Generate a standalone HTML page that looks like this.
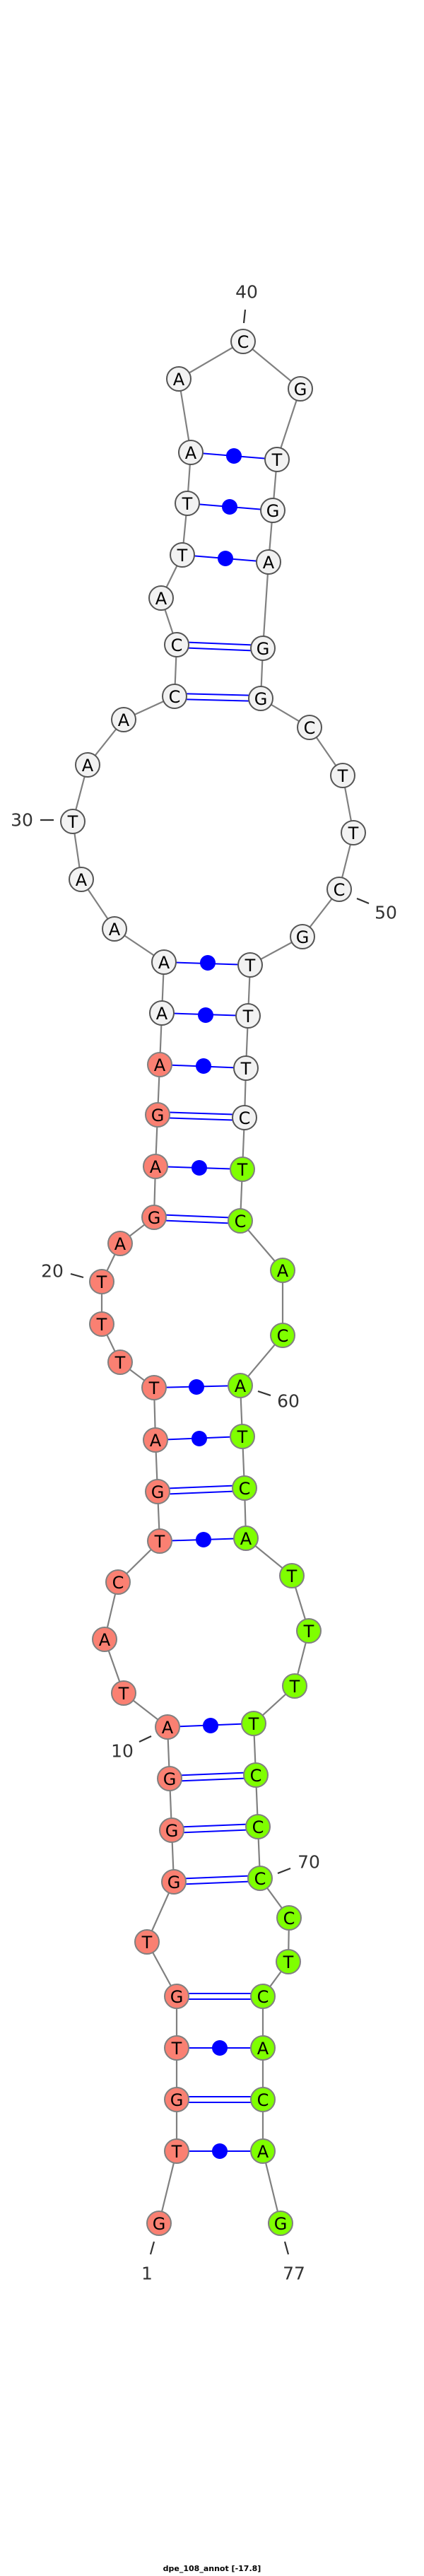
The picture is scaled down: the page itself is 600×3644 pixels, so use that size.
<!DOCTYPE html>
<html><head><meta charset="utf-8"><style>
html,body{margin:0;padding:0;background:#fff;}
svg{display:block;}
.n text{font-family:"DejaVu Sans","Liberation Sans",sans-serif;font-size:24px;text-anchor:middle;dominant-baseline:central;fill:#000;}
.lbl{font-family:"DejaVu Sans","Liberation Sans",sans-serif;font-size:25px;fill:#333;text-anchor:middle;dominant-baseline:central;}
</style></head><body>
<svg width="600" height="3644" viewBox="0 0 600 3644" xmlns="http://www.w3.org/2000/svg">
<polyline fill="none" stroke="#808080" stroke-width="2.2" points="225,3145 250,3043 250,2970 250,2897 250,2824 208,2747 246,2662 243,2589 240,2516 237,2443 175,2395 148,2319 167,2238 226,2180 223,2110 220,2037 218,1963 170,1927 144,1873 144,1813 170,1759 218,1722 220,1650 223,1577 226,1506 229,1433 232,1361 162,1314 115,1244 103,1162 124,1082 175,1018 247,985 250,912 228,846 258,785 265,712 270,640 253,536 344,483 425,550 392,650 386,722 380,795 372,917 369,988 438,1029 485,1097 500,1178 480,1258 428,1325 354,1365 351,1437 348,1511 346,1581 343,1654 340,1727 400,1797 400,1889 340,1960 343,2032 346,2105 348,2176 413,2229 437,2307 417,2385 359,2438 362,2511 365,2584 368,2657 409,2713 408,2775 372,2824 372,2897 372,2970 372,3043 397,3145"/>
<g stroke="#333" stroke-width="2.2">
<line x1="218" y1="3171" x2="213" y2="3189"/>
<line x1="403" y1="3171" x2="408" y2="3189"/>
<line x1="197" y1="2464" x2="214" y2="2456"/>
<line x1="393" y1="2650" x2="411" y2="2643"/>
<line x1="365" y1="1968" x2="383" y2="1974"/>
<line x1="100" y1="1802" x2="118" y2="1807"/>
<line x1="57" y1="1160" x2="76" y2="1160"/>
<line x1="505" y1="1271" x2="522" y2="1278"/>
<line x1="347" y1="438" x2="345" y2="457"/>
</g>
<g stroke="#0000ff" stroke-width="2">
<line x1="250" y1="3043" x2="372" y2="3043"/>
<line x1="250" y1="2897" x2="372" y2="2897"/>
<line x1="237" y1="2443" x2="359" y2="2438"/>
<line x1="226" y1="2180" x2="348" y2="2176"/>
<line x1="220" y1="2037" x2="343" y2="2032"/>
<line x1="218" y1="1963" x2="340" y2="1960"/>
<line x1="220" y1="1650" x2="343" y2="1654"/>
<line x1="226" y1="1506" x2="348" y2="1511"/>
<line x1="229" y1="1433" x2="351" y2="1437"/>
<line x1="232" y1="1361" x2="354" y2="1365"/>
<line x1="258" y1="785" x2="380" y2="795"/>
<line x1="265" y1="712" x2="386" y2="722"/>
<line x1="270" y1="640" x2="392" y2="650"/>
<line x1="250" y1="2966" x2="372" y2="2966"/><line x1="250" y1="2974" x2="372" y2="2974"/>
<line x1="250" y1="2820" x2="372" y2="2820"/><line x1="250" y1="2828" x2="372" y2="2828"/>
<line x1="246" y1="2658" x2="368" y2="2653"/><line x1="246" y1="2666" x2="368" y2="2661"/>
<line x1="243" y1="2585" x2="365" y2="2580"/><line x1="243" y1="2593" x2="365" y2="2588"/>
<line x1="240" y1="2512" x2="362" y2="2507"/><line x1="240" y1="2520" x2="362" y2="2515"/>
<line x1="223" y1="2106" x2="346" y2="2101"/><line x1="223" y1="2114" x2="346" y2="2109"/>
<line x1="218" y1="1718" x2="340" y2="1723"/><line x1="218" y1="1726" x2="340" y2="1731"/>
<line x1="223" y1="1573" x2="346" y2="1577"/><line x1="223" y1="1581" x2="346" y2="1585"/>
<line x1="247" y1="981" x2="369" y2="984"/><line x1="247" y1="989" x2="369" y2="992"/>
<line x1="250" y1="908" x2="372" y2="913"/><line x1="250" y1="916" x2="372" y2="921"/>
</g>
<g fill="#0000ff">
<circle cx="311" cy="3043" r="11"/>
<circle cx="311" cy="2897" r="11"/>
<circle cx="298" cy="2441" r="11"/>
<circle cx="288" cy="2178" r="11"/>
<circle cx="282" cy="2035" r="11"/>
<circle cx="278" cy="1962" r="11"/>
<circle cx="282" cy="1652" r="11"/>
<circle cx="288" cy="1508" r="11"/>
<circle cx="291" cy="1436" r="11"/>
<circle cx="294" cy="1362" r="11"/>
<circle cx="319" cy="790" r="11"/>
<circle cx="325" cy="717" r="11"/>
<circle cx="331" cy="645" r="11"/>
</g>
<g class="n" stroke-width="2">
<g fill="#fa8072" stroke="#808080">
<circle cx="225" cy="3145" r="17"/><circle cx="250" cy="3043" r="17"/><circle cx="250" cy="2970" r="17"/><circle cx="250" cy="2897" r="17"/><circle cx="250" cy="2824" r="17"/><circle cx="208" cy="2747" r="17"/><circle cx="246" cy="2662" r="17"/><circle cx="243" cy="2589" r="17"/><circle cx="240" cy="2516" r="17"/><circle cx="237" cy="2443" r="17"/><circle cx="175" cy="2395" r="17"/><circle cx="148" cy="2319" r="17"/><circle cx="167" cy="2238" r="17"/><circle cx="226" cy="2180" r="17"/><circle cx="223" cy="2110" r="17"/><circle cx="220" cy="2037" r="17"/><circle cx="218" cy="1963" r="17"/><circle cx="170" cy="1927" r="17"/><circle cx="144" cy="1873" r="17"/><circle cx="144" cy="1813" r="17"/><circle cx="170" cy="1759" r="17"/><circle cx="218" cy="1722" r="17"/><circle cx="220" cy="1650" r="17"/><circle cx="223" cy="1577" r="17"/><circle cx="226" cy="1506" r="17"/>
</g>
<g fill="#f2f2f2" stroke="#555">
<circle cx="229" cy="1433" r="17"/><circle cx="232" cy="1361" r="17"/><circle cx="162" cy="1314" r="17"/><circle cx="115" cy="1244" r="17"/><circle cx="103" cy="1162" r="17"/><circle cx="124" cy="1082" r="17"/><circle cx="175" cy="1018" r="17"/><circle cx="247" cy="985" r="17"/><circle cx="250" cy="912" r="17"/><circle cx="228" cy="846" r="17"/><circle cx="258" cy="785" r="17"/><circle cx="265" cy="712" r="17"/><circle cx="270" cy="640" r="17"/><circle cx="253" cy="536" r="17"/><circle cx="344" cy="483" r="17"/><circle cx="425" cy="550" r="17"/><circle cx="392" cy="650" r="17"/><circle cx="386" cy="722" r="17"/><circle cx="380" cy="795" r="17"/><circle cx="372" cy="917" r="17"/><circle cx="369" cy="988" r="17"/><circle cx="438" cy="1029" r="17"/><circle cx="485" cy="1097" r="17"/><circle cx="500" cy="1178" r="17"/><circle cx="480" cy="1258" r="17"/><circle cx="428" cy="1325" r="17"/><circle cx="354" cy="1365" r="17"/><circle cx="351" cy="1437" r="17"/><circle cx="348" cy="1511" r="17"/><circle cx="346" cy="1581" r="17"/>
</g>
<g fill="#7fff00" stroke="#808080">
<circle cx="343" cy="1654" r="17"/><circle cx="340" cy="1727" r="17"/><circle cx="400" cy="1797" r="17"/><circle cx="400" cy="1889" r="17"/><circle cx="340" cy="1960" r="17"/><circle cx="343" cy="2032" r="17"/><circle cx="346" cy="2105" r="17"/><circle cx="348" cy="2176" r="17"/><circle cx="413" cy="2229" r="17"/><circle cx="437" cy="2307" r="17"/><circle cx="417" cy="2385" r="17"/><circle cx="359" cy="2438" r="17"/><circle cx="362" cy="2511" r="17"/><circle cx="365" cy="2584" r="17"/><circle cx="368" cy="2657" r="17"/><circle cx="409" cy="2713" r="17"/><circle cx="408" cy="2775" r="17"/><circle cx="372" cy="2824" r="17"/><circle cx="372" cy="2897" r="17"/><circle cx="372" cy="2970" r="17"/><circle cx="372" cy="3043" r="17"/><circle cx="397" cy="3145" r="17"/>
</g>
<g stroke="none">
<text x="225" y="3146">G</text><text x="250" y="3044">T</text><text x="250" y="2971">G</text><text x="250" y="2898">T</text><text x="250" y="2825">G</text><text x="208" y="2748">T</text><text x="246" y="2663">G</text><text x="243" y="2590">G</text><text x="240" y="2517">G</text><text x="237" y="2444">A</text><text x="175" y="2396">T</text><text x="148" y="2320">A</text><text x="167" y="2239">C</text><text x="226" y="2181">T</text><text x="223" y="2111">G</text><text x="220" y="2038">A</text><text x="218" y="1964">T</text><text x="170" y="1928">T</text><text x="144" y="1874">T</text><text x="144" y="1814">T</text><text x="170" y="1760">A</text><text x="218" y="1723">G</text><text x="220" y="1651">A</text><text x="223" y="1578">G</text><text x="226" y="1507">A</text>
<text x="229" y="1434">A</text><text x="232" y="1362">A</text><text x="162" y="1315">A</text><text x="115" y="1245">A</text><text x="103" y="1163">T</text><text x="124" y="1083">A</text><text x="175" y="1019">A</text><text x="247" y="986">C</text><text x="250" y="913">C</text><text x="228" y="847">A</text><text x="258" y="786">T</text><text x="265" y="713">T</text><text x="270" y="641">A</text><text x="253" y="537">A</text><text x="344" y="484">C</text><text x="425" y="551">G</text><text x="392" y="651">T</text><text x="386" y="723">G</text><text x="380" y="796">A</text><text x="372" y="918">G</text><text x="369" y="989">G</text><text x="438" y="1030">C</text><text x="485" y="1098">T</text><text x="500" y="1179">T</text><text x="480" y="1259">C</text><text x="428" y="1326">G</text><text x="354" y="1366">T</text><text x="351" y="1438">T</text><text x="348" y="1512">T</text><text x="346" y="1582">C</text>
<text x="343" y="1655">T</text><text x="340" y="1728">C</text><text x="400" y="1798">A</text><text x="400" y="1890">C</text><text x="340" y="1961">A</text><text x="343" y="2033">T</text><text x="346" y="2106">C</text><text x="348" y="2177">A</text><text x="413" y="2230">T</text><text x="437" y="2308">T</text><text x="417" y="2386">T</text><text x="359" y="2439">T</text><text x="362" y="2512">C</text><text x="365" y="2585">C</text><text x="368" y="2658">C</text><text x="409" y="2714">C</text><text x="408" y="2776">T</text><text x="372" y="2825">C</text><text x="372" y="2898">A</text><text x="372" y="2971">C</text><text x="372" y="3044">A</text><text x="397" y="3146">G</text>
</g>
</g>
<text class="lbl" x="208" y="3216">1</text>
<text class="lbl" x="416" y="3216">77</text>
<text class="lbl" x="173" y="2477">10</text>
<text class="lbl" x="437" y="2634">70</text>
<text class="lbl" x="408" y="1982">60</text>
<text class="lbl" x="74" y="1798">20</text>
<text class="lbl" x="31" y="1160">30</text>
<text class="lbl" x="546" y="1291">50</text>
<text class="lbl" x="349" y="413">40</text>
<text x="300" y="3637" font-family="'DejaVu Sans','Liberation Sans',sans-serif" font-size="11" font-weight="bold" text-anchor="middle" fill="#000">dpe_108_annot [-17.8]</text>
</svg>
</body></html>
